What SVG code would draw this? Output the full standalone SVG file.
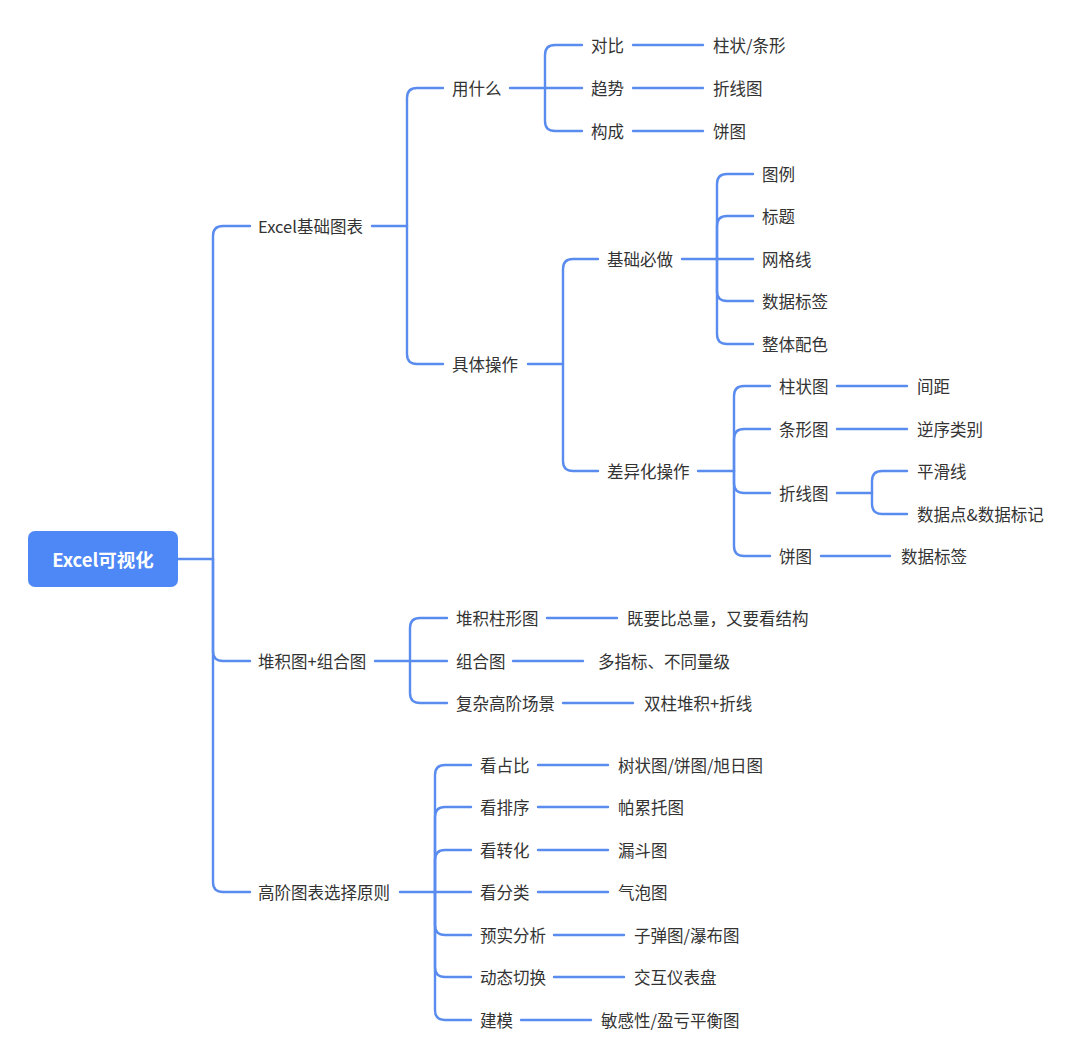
<svg xmlns="http://www.w3.org/2000/svg" width="1080" height="1064" viewBox="0 0 1080 1064">
<style>
.t{font-family:"Noto Sans CJK SC","Noto Sans",sans-serif;font-size:16.5px;fill:#333333;dominant-baseline:central}
.c path{fill:none;stroke:#5a8cef;stroke-width:2.4;stroke-linecap:round}
.root{fill:#4e87f6}
.rt{font-family:"Noto Sans CJK SC","Noto Sans",sans-serif;font-size:18.5px;font-weight:bold;fill:#ffffff;dominant-baseline:central;text-anchor:middle}
</style>
<rect width="1080" height="1064" fill="#ffffff"/>
<g class="c" id="connectors">
<path d="M178,559 H213"/>
<path d="M213,559 V236 Q213,226 223,226 H250"/>
<path d="M213,559 V651 Q213,661 223,661 H250"/>
<path d="M213,559 V882 Q213,892 223,892 H250"/>
<path d="M372,226 H407"/>
<path d="M407,226 V98 Q407,88 417,88 H443"/>
<path d="M407,226 V354 Q407,364 417,364 H443"/>
<path d="M510,88 H582"/>
<path d="M545,88 V55 Q545,45 555,45 H582"/>
<path d="M545,88 V121 Q545,131 555,131 H582"/>
<path d="M633,45 H703"/>
<path d="M633,88 H703"/>
<path d="M633,131 H703"/>
<path d="M528,364 H563"/>
<path d="M563,364 V269 Q563,259 573,259 H598"/>
<path d="M563,364 V461 Q563,471 573,471 H598"/>
<path d="M682,259 H753"/>
<path d="M717,259 V184 Q717,174 727,174 H753"/>
<path d="M717,259 V226 Q717,216 727,216 H753"/>
<path d="M717,259 V291 Q717,301 727,301 H753"/>
<path d="M717,259 V334 Q717,344 727,344 H753"/>
<path d="M698,471 H734"/>
<path d="M734,471 V396 Q734,386 744,386 H770"/>
<path d="M734,471 V439 Q734,429 744,429 H770"/>
<path d="M734,471 V483 Q734,493 744,493 H770"/>
<path d="M734,471 V546 Q734,556 744,556 H770"/>
<path d="M837,386 H907"/>
<path d="M837,429 H907"/>
<path d="M837,493 H872"/>
<path d="M872,493 V481 Q872,471 882,471 H907"/>
<path d="M872,493 V504 Q872,514 882,514 H907"/>
<path d="M821,556 H890"/>
<path d="M375,661 H447"/>
<path d="M410,661 V628 Q410,618 420,618 H447"/>
<path d="M410,661 V693 Q410,703 420,703 H447"/>
<path d="M547,618 H617"/>
<path d="M513,661 H583"/>
<path d="M563,703 H633"/>
<path d="M400,892 H471"/>
<path d="M435,892 V775 Q435,765 445,765 H471"/>
<path d="M435,892 V817 Q435,807 445,807 H471"/>
<path d="M435,892 V860 Q435,850 445,850 H471"/>
<path d="M435,892 V925 Q435,935 445,935 H471"/>
<path d="M435,892 V967 Q435,977 445,977 H471"/>
<path d="M435,892 V1010 Q435,1020 445,1020 H471"/>
<path d="M538,765 H608"/>
<path d="M538,807 H608"/>
<path d="M538,850 H608"/>
<path d="M538,892 H608"/>
<path d="M554,935 H624"/>
<path d="M554,977 H624"/>
<path d="M521,1020 H591"/>
</g>
<g id="root"><rect class="root" x="28" y="531" width="150" height="56" rx="7"/><text class="rt" x="103" y="559">Excel可视化</text></g>
<g id="n-basic"><text class="t" x="258" y="226">Excel基础图表</text></g>
<g id="n-stack"><text class="t" x="258" y="661">堆积图+组合图</text></g>
<g id="n-adv"><text class="t" x="258" y="892">高阶图表选择原则</text></g>
<g id="n-use"><text class="t" x="452" y="88">用什么</text></g>
<g id="n-ops"><text class="t" x="452" y="364">具体操作</text></g>
<g id="n-cmp"><text class="t" x="591" y="45">对比</text></g>
<g id="n-trend"><text class="t" x="591" y="88">趋势</text></g>
<g id="n-comp"><text class="t" x="591" y="131">构成</text></g>
<g id="n-bar"><text class="t" x="713" y="45">柱状/条形</text></g>
<g id="n-line"><text class="t" x="713" y="88">折线图</text></g>
<g id="n-pie"><text class="t" x="713" y="131">饼图</text></g>
<g id="n-must"><text class="t" x="607" y="259">基础必做</text></g>
<g id="n-diff"><text class="t" x="607" y="471">差异化操作</text></g>
<g id="n-legend"><text class="t" x="762" y="174">图例</text></g>
<g id="n-title"><text class="t" x="762" y="216">标题</text></g>
<g id="n-grid"><text class="t" x="762" y="259">网格线</text></g>
<g id="n-label"><text class="t" x="762" y="301">数据标签</text></g>
<g id="n-color"><text class="t" x="762" y="344">整体配色</text></g>
<g id="n-col"><text class="t" x="779" y="386">柱状图</text></g>
<g id="n-hbar"><text class="t" x="779" y="429">条形图</text></g>
<g id="n-lchart"><text class="t" x="779" y="493">折线图</text></g>
<g id="n-pchart"><text class="t" x="779" y="556">饼图</text></g>
<g id="n-gap"><text class="t" x="917" y="386">间距</text></g>
<g id="n-rev"><text class="t" x="917" y="429">逆序类别</text></g>
<g id="n-smooth"><text class="t" x="917" y="471">平滑线</text></g>
<g id="n-marker"><text class="t" x="917" y="514">数据点&amp;数据标记</text></g>
<g id="n-plabel"><text class="t" x="901" y="556">数据标签</text></g>
<g id="n-stcol"><text class="t" x="456" y="618">堆积柱形图</text></g>
<g id="n-combo"><text class="t" x="456" y="661">组合图</text></g>
<g id="n-complex"><text class="t" x="456" y="703">复杂高阶场景</text></g>
<g id="n-stcol-d"><text class="t" x="627" y="618">既要比总量，又要看结构</text></g>
<g id="n-combo-d"><text class="t" x="598" y="661">多指标、不同量级</text></g>
<g id="n-complex-d"><text class="t" x="644" y="703">双柱堆积+折线</text></g>
<g id="n-share"><text class="t" x="480" y="765">看占比</text></g>
<g id="n-rank"><text class="t" x="480" y="807">看排序</text></g>
<g id="n-conv"><text class="t" x="480" y="850">看转化</text></g>
<g id="n-cat"><text class="t" x="480" y="892">看分类</text></g>
<g id="n-budget"><text class="t" x="480" y="935">预实分析</text></g>
<g id="n-dyn"><text class="t" x="480" y="977">动态切换</text></g>
<g id="n-model"><text class="t" x="480" y="1020">建模</text></g>
<g id="n-share-d"><text class="t" x="618" y="765">树状图/饼图/旭日图</text></g>
<g id="n-rank-d"><text class="t" x="618" y="807">帕累托图</text></g>
<g id="n-conv-d"><text class="t" x="618" y="850">漏斗图</text></g>
<g id="n-cat-d"><text class="t" x="618" y="892">气泡图</text></g>
<g id="n-budget-d"><text class="t" x="634" y="935">子弹图/瀑布图</text></g>
<g id="n-dyn-d"><text class="t" x="634" y="977">交互仪表盘</text></g>
<g id="n-model-d"><text class="t" x="601" y="1020">敏感性/盈亏平衡图</text></g>
</svg>
